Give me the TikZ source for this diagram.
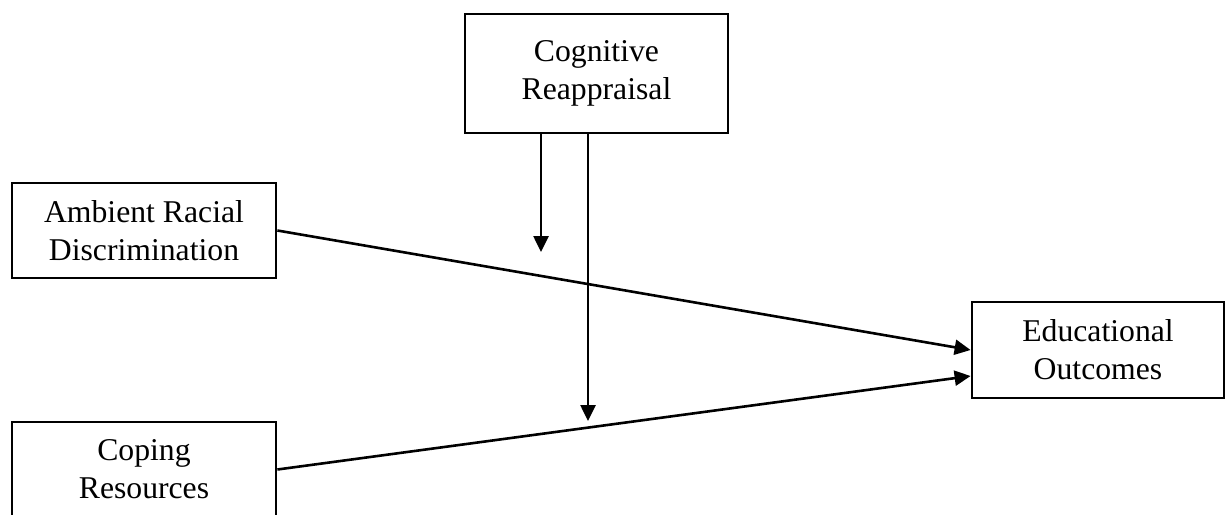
\documentclass[tikz,border=0pt]{standalone}
\usepackage{fontspec}
\setmainfont{Liberation Serif}
\usetikzlibrary{arrows.meta}
\begin{document}
\begin{tikzpicture}[x=0.5pt,y=-0.5pt,
  box/.style={draw, line width=1.4pt, align=center, inner sep=0pt,
    font=\fontsize{15.85pt}{19pt}\selectfont},
  arr/.style={line width=1.3pt, -{Triangle[length=8pt,width=7.5pt]}}]
\useasboundingbox (0,0) rectangle (1225,514);
\clip (-1,-1) rectangle (1226,515);
\node[box, minimum width=131.5pt, minimum height=59.5pt] (cog) at (596.5,73.5) {Cognitive\\Reappraisal};
\node[box, minimum width=132pt, minimum height=47.5pt] (amb) at (144,230.5) {Ambient Racial\\Discrimination};
\node[box, minimum width=132pt, minimum height=47.5pt] (cop) at (144,469.5) {Coping\\Resources};
\node[box, minimum width=126pt, minimum height=48pt] (edu) at (1098,350) {Educational\\Outcomes};
\coordinate (t1) at (541,252);
\coordinate (t2) at (588,421);
\draw[arr] (amb.east) -- (edu.west);
\draw[arr] (cop.east) -- ([yshift=-13pt]edu.west);
\draw[arr] (cog.south -| t1) -- (t1);
\draw[arr] (cog.south -| t2) -- (t2);
\end{tikzpicture}
\end{document}
